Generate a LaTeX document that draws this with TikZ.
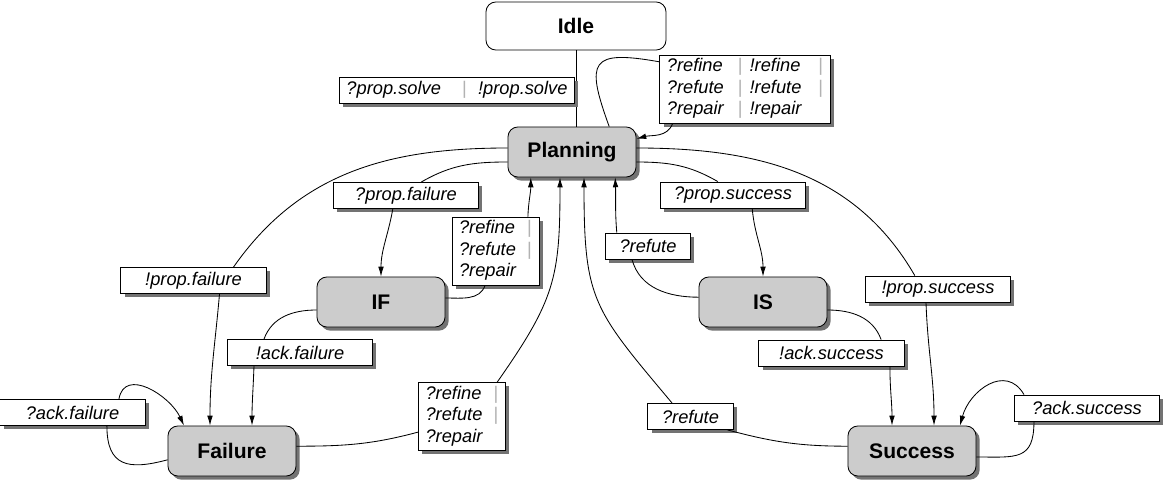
\documentclass[tikz,border=0pt]{standalone}
\usepackage{fontspec}
\setmainfont{Liberation Sans}
\usetikzlibrary{arrows.meta,shadows}
\newcommand{\sepbar}{\textcolor{gray!60}{\upshape|}}
\tikzset{
  shade box/.style={drop shadow={shadow xshift=2.6pt, shadow yshift=-2.6pt, fill=black!55, opacity=1}},
  state/.style={draw, rounded corners=7pt, minimum width=3.2cm, minimum height=1.25cm, fill=gray!40, font=\fontsize{15}{18}\selectfont\bfseries, shade box},
  lbl/.style={draw, fill=white, inner xsep=5pt, inner ysep=1.2pt, minimum height=0.65cm, font=\fontsize{13}{15.3}\selectfont\itshape, shade box},
  wide/.style={minimum width=3.63cm},
  narrow/.style={minimum width=2.13cm}
}
\begin{document}
\begin{tikzpicture}[x=0.025cm, y=-0.025cm, line width=0.6pt, >={Latex[length=7pt,width=4pt]}]
  \useasboundingbox (0,0) rectangle (1165,486);
  \node[draw, rounded corners=7pt, fill=white, minimum width=4.5cm, minimum height=1.2cm, font=\fontsize{15}{18}\selectfont\bfseries] (idle) at (576,26) {Idle};
  \node[state] (plan) at (572,152) {Planning};
  \node[state] (if) at (381,302) {IF};
  \node[state] (is) at (763,302) {IS};
  \node[state] (fail) at (232,451) {Failure};
  \node[state] (succ) at (912,451) {Success};
  \draw (idle.south) -- (idle.south |- plan.north);
  % labels
  \node[lbl] (lsolve) at (457,90) {?prop.solve\hspace{15pt}\sepbar\hspace{8pt}!prop.solve\hspace{6pt}};
  \node[lbl] (lloop) at (745,89) {\begin{tabular}{@{}l@{\hspace{10pt}}c@{\hspace{5pt}}l@{\hspace{12pt}}c@{}}
    ?refine & \sepbar & !refine & \sepbar\\
    ?refute & \sepbar & !refute & \sepbar\\
    ?repair & \sepbar & !repair & \end{tabular}};
  \node[lbl, wide] (lpf) at (406,195.5) {?prop.failure};
  \node[lbl] (lrf1) at (495.5,251) {\begin{tabular}{@{}l@{\hspace{8pt}}c@{}}
    ?refine & \sepbar\\ ?refute & \sepbar\\ ?repair & \end{tabular}};
  \node[lbl, wide] (lnpf) at (193.5,280.5) {!prop.failure};
  \node[lbl, wide] (laf) at (300,352.5) {!ack.failure};
  \node[lbl, wide] (lqaf) at (72.5,412.5) {?ack.failure};
  \node[lbl] (lrf2) at (462,416.5) {\begin{tabular}{@{}l@{\hspace{8pt}}c@{}}
    ?refine & \sepbar\\ ?refute & \sepbar\\ ?repair & \end{tabular}};
  \node[lbl, wide] (lps) at (733,195) {?prop.success};
  \node[lbl, narrow] (lrs1) at (648,246) {?refute};
  \node[lbl, wide] (lnps) at (938,289) {!prop.success};
  \node[lbl, wide] (las) at (831.5,353) {!ack.success};
  \node[lbl, narrow] (lrs2) at (690.5,416.5) {?refute};
  \node[lbl, wide] (lqas) at (1087,408) {?ack.success};
  % transitions
  \draw ([xshift=0.93cm]plan.north) to[out=110,in=170,looseness=2.2] ([yshift=-0.18cm]lloop.north west);
  \draw[->] ([xshift=0.33cm]lloop.south west) to[out=-110,in=15] ([yshift=0.33cm]plan.east);
  \draw[->] ([yshift=0.1cm]plan.west) to[out=180,in=55] ([xshift=1cm]lnpf.north)
    ([xshift=0.65cm]lnpf.south) to[out=-95,in=90] ([xshift=-0.55cm]fail.north);
  \draw[->] ([yshift=-0.25cm]plan.west) to[out=180,in=30] ([xshift=0.38cm]lpf.north)
    ([xshift=-0.33cm]lpf.south) to[out=-100,in=90] (if.north);
  \draw[->] ([yshift=0.1cm]if.east) to[out=0,in=-110] ([xshift=-0.26cm]lrf1.south)
    ([xshift=0.81cm]lrf1.north) to[out=88,in=-90] ([xshift=-1.03cm]plan.south);
  \draw[->] ([yshift=0.12cm]fail.east) to[out=0,in=195] ([yshift=-0.39cm]lrf2.west)
    ([xshift=0.88cm]lrf2.north) to[out=55,in=-90,looseness=1.2] ([xshift=-0.3cm]plan.south);
  \draw[->] ([yshift=-0.2cm]if.west) to[out=180,in=70] ([xshift=-0.9cm]laf.north)
    ([xshift=-1.15cm]laf.south) to[out=-92,in=90] ([xshift=0.5cm]fail.north);
  \draw[->] ([yshift=-0.22cm]fail.west) to[out=195,in=-90,looseness=1.5] ([xshift=0.86cm]lqaf.south)
    ([xshift=1.16cm]lqaf.north) to[out=80,in=115,looseness=1.2] ([xshift=-1.2cm]fail.north);
  \draw[->] ([yshift=0.12cm]is.west) to[out=180,in=-75] ([xshift=-0.4cm]lrs1.south)
    ([xshift=-0.78cm]lrs1.north) to[out=95,in=-88] ([xshift=1.08cm]plan.south);
  \draw[->] ([yshift=0.12cm]succ.west) to[out=180,in=-15] ([xshift=-0.15cm]lrs2.south east)
    ([xshift=-0.46cm]lrs2.north) to[out=130,in=-90,looseness=1.3] ([xshift=0.3cm]plan.south);
  \draw[->] ([yshift=-0.25cm]plan.east) to[out=0,in=150] ([xshift=-0.38cm]lps.north)
    ([xshift=0.48cm]lps.south) to[out=-85,in=90] (is.north);
  \draw[->] ([yshift=0.1cm]plan.east) to[out=0,in=120] ([xshift=-0.58cm]lnps.north)
    ([xshift=-0.3cm]lnps.south) to[out=-88,in=90] ([xshift=0.55cm]succ.north);
  \draw[->] ([yshift=-0.2cm]is.east) to[out=0,in=110] ([xshift=1.24cm]las.north)
    ([xshift=1.46cm]las.south) to[out=-90,in=90] ([xshift=-0.5cm]succ.north);
  \draw[->] ([yshift=-0.15cm]succ.east) to[out=0,in=-90,looseness=1.5] ([xshift=0.5cm]lqas.south west)
    ([xshift=0.25cm]lqas.north west) to[out=120,in=75,looseness=1.3] ([xshift=1.2cm]succ.north);
\end{tikzpicture}
\end{document}
